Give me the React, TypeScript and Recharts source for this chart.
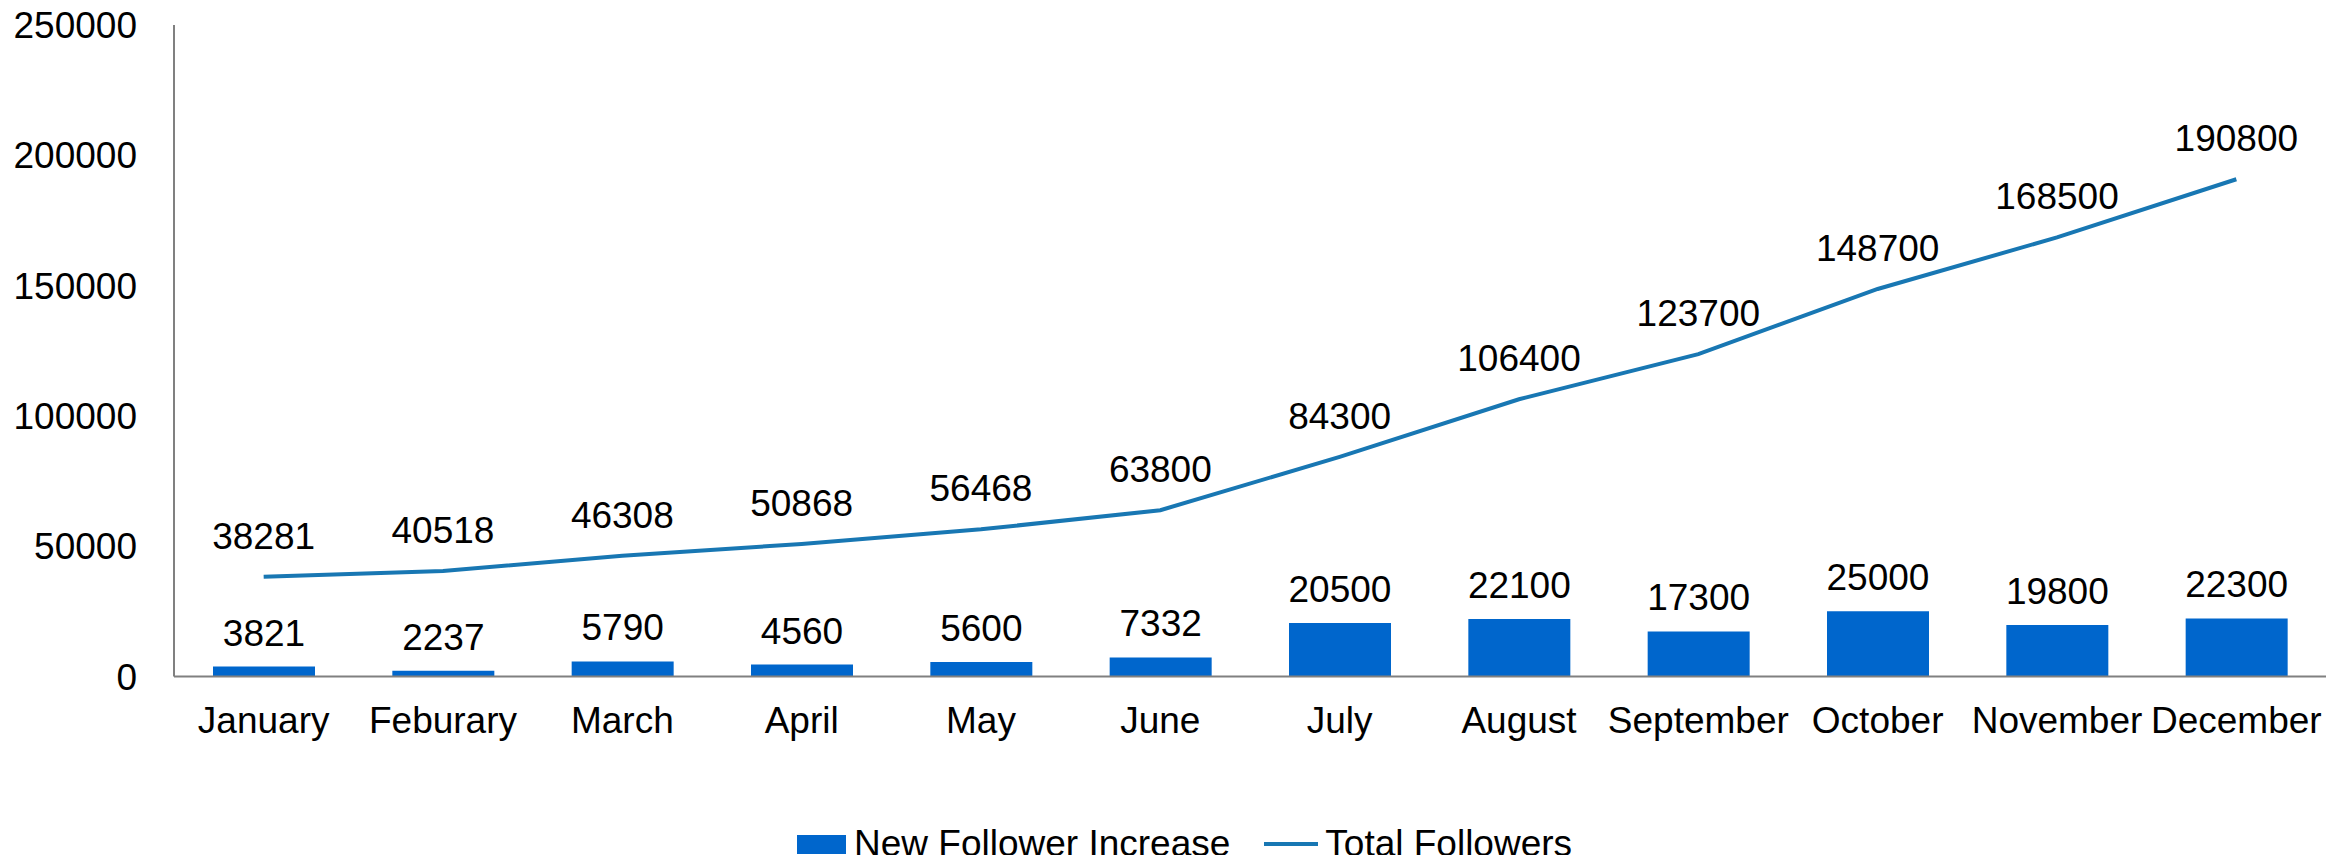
import React from 'react';
import { ComposedChart, Bar, Line, XAxis, YAxis, Legend, LabelList } from 'recharts';

const months = ['January', 'Feburary', 'March', 'April', 'May', 'June', 'July', 'August', 'September', 'October', 'November', 'December'];
const newFollowers = [3821, 2237, 5790, 4560, 5600, 7332, 20500, 22100, 17300, 25000, 19800, 22300];
const totalFollowers = [38281, 40518, 46308, 50868, 56468, 63800, 84300, 106400, 123700, 148700, 168500, 190800];
const yTicks = [0, 50000, 100000, 150000, 200000, 250000];

const data = months.map((m, i) => ({ month: m, newFollowers: newFollowers[i], totalFollowers: totalFollowers[i] }));

const FONT = '"Liberation Sans", Arial, Helvetica, sans-serif';
const BAR_COLOR = '#0066cc';
const LINE_COLOR = '#1877b3';
const AXIS_COLOR = '#808080';

const renderLegend = (props: any) => {
  const { payload } = props;
  return (
    <div style={{ display: 'flex', alignItems: 'center', height: 36, fontFamily: FONT, fontSize: 37, lineHeight: '36px', color: '#000', whiteSpace: 'nowrap' }}>
      {(payload || []).map((entry: any, i: number) => (
        <div key={i} style={{ display: 'flex', alignItems: 'center', marginLeft: i === 0 ? 0 : 34 }}>
          {entry.type === 'line' ? (
            <div style={{ width: 54, height: 4, background: entry.color, marginRight: 7 }} />
          ) : (
            <div style={{ width: 49, height: 19, background: entry.color, marginRight: 8 }} />
          )}
          <span>{entry.value}</span>
        </div>
      ))}
    </div>
  );
};

export default function App() {
  return (
    <div style={{ margin: -8, width: 2346, height: 863, fontFamily: FONT }}>
      <ComposedChart
        width={2346}
        height={863}
        data={data}
        margin={{ top: 25, right: 20, bottom: 156.5, left: 0 }}
        style={{ fontFamily: FONT }}
      >
        <XAxis
          dataKey="month"
          interval={0}
          height={30}
          tickLine={false}
          tickMargin={24}
          axisLine={{ stroke: AXIS_COLOR, strokeWidth: 2 }}
          tick={{ fill: '#000', fontSize: 37, fontFamily: FONT }}
        />
        <YAxis
          width={174}
          domain={[0, 250000]}
          ticks={yTicks}
          interval={0}
          tickLine={false}
          tickMargin={31}
          axisLine={{ stroke: AXIS_COLOR, strokeWidth: 2 }}
          tick={{ fill: '#000', fontSize: 37, fontFamily: FONT }}
        />
        <Legend
          verticalAlign="middle"
          align="center"
          layout="horizontal"
          wrapperStyle={{ top: 826, left: 797, width: 900, height: 36 }}
          content={renderLegend}
        />
        <Bar dataKey="newFollowers" name="New Follower Increase" fill={BAR_COLOR} barSize={102} legendType="square" isAnimationActive={false}>
          <LabelList dataKey="newFollowers" position="top" offset={21} fill="#000" fontSize={37} fontFamily={FONT} />
        </Bar>
        <Line
          type="linear"
          dataKey="totalFollowers"
          name="Total Followers"
          stroke={LINE_COLOR}
          strokeWidth={4}
          dot={false}
          activeDot={false}
          legendType="line"
          isAnimationActive={false}
        >
          <LabelList dataKey="totalFollowers" position="top" offset={28} fill="#000" fontSize={37} fontFamily={FONT} />
        </Line>
      </ComposedChart>
    </div>
  );
}
